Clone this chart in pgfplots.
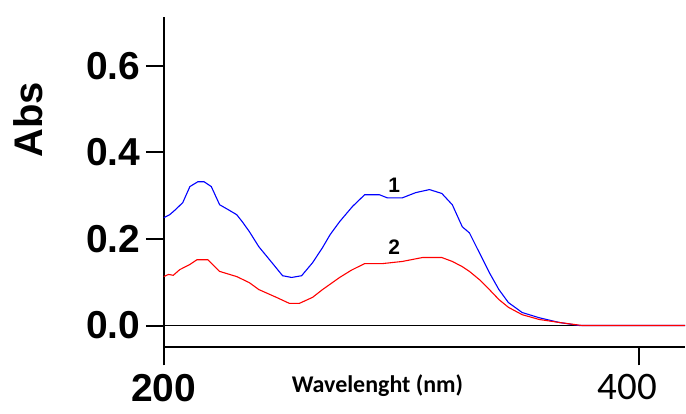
\documentclass[border=0pt]{standalone}
\usepackage{pgfplots}
\pgfplotsset{compat=1.18}
\usepackage{fontspec}
\setmainfont{Liberation Sans}
\newfontfamily\carlito{Carlito}
\begin{document}
\begin{tikzpicture}
\begin{axis}[
    scale only axis,
    width=522pt, height=331pt,
    xmin=200, xmax=419.3,
    ymin=-0.0508, ymax=0.7128,
    axis x line*=bottom, axis y line*=left,
    axis line style={line width=2pt, -},
    tick style={line width=2pt, black},
    tick align=outside,
    major tick length=18pt,
    xtick={200,400},
    xticklabels={\textbf{200}, {\carlito\hspace*{-24pt}400}},
    ytick={0,0.2,0.4,0.6},
    yticklabels={0.0,0.2,0.4,0.6},
    yticklabel style={font=\fontsize{39}{40}\selectfont\bfseries, xshift=-2pt},
    xticklabel style={font=\fontsize{39}{40}\selectfont, yshift=-8pt, inner sep=1pt},
    clip=false,
]
% baseline at zero
\addplot[black, line width=1.4pt] coordinates {(196,0) (419.3,0)};
% spectrum 1
\addplot[blue, line width=1.1pt] coordinates {
(200,0.249) (202.5,0.256) (205,0.268) (208,0.284) (211,0.321) (214.3,0.332)
(217,0.332) (220,0.321) (223.5,0.279) (227,0.268) (230.7,0.256) (233,0.240)
(236,0.217) (240,0.182) (244.5,0.152) (250,0.115) (253.8,0.111) (258,0.115)
(262.6,0.145) (266.8,0.180) (270,0.210) (274,0.240) (279.4,0.275) (284.5,0.302)
(290.8,0.302) (294,0.295) (300.4,0.295) (306,0.307) (311.8,0.314) (317,0.305)
(321.4,0.279) (325.6,0.228) (328.6,0.214) (332.8,0.168) (337,0.122) (341,0.083)
(345,0.053) (350.8,0.030) (357.9,0.018) (366.4,0.007) (374.8,0.0) (419.3,0)};
% spectrum 2
\addplot[red, line width=1.1pt] coordinates {
(200,0.113) (202,0.118) (204,0.116) (206.7,0.129) (211,0.141) (214,0.152)
(218.5,0.152) (223.5,0.125) (230.7,0.113) (236,0.099) (240,0.083) (247.4,0.065)
(252.9,0.051) (257,0.051) (262.6,0.065) (266.8,0.083) (274,0.111) (279,0.128)
(284.5,0.143) (292,0.143) (300.4,0.148) (308.8,0.157) (317,0.157) (321.4,0.148)
(325.6,0.136) (328.6,0.125) (332.8,0.106) (337,0.083) (341,0.060) (345,0.042)
(350.8,0.025) (357.9,0.014) (366.4,0.007) (376,0) (419.3,0)};
\node[font=\fontsize{21}{22}\selectfont\bfseries] at (axis cs:297,0.323) {1};
\node[font=\fontsize{21}{22}\selectfont\bfseries] at (axis cs:297,0.182) {2};
\node[font=\carlito\fontsize{24}{25}\selectfont\bfseries] at (axis description cs:0.41,-0.115) {Wavelenght (nm)};
\node[font=\fontsize{40}{41}\selectfont\bfseries, rotate=90] at (axis description cs:-0.2605,0.689) {Abs};
\coordinate (o) at (rel axis cs:0,0);
\end{axis}
\path (o) ++(-164pt,-66pt) rectangle ++(686pt,414pt);
\end{tikzpicture}
\end{document}
